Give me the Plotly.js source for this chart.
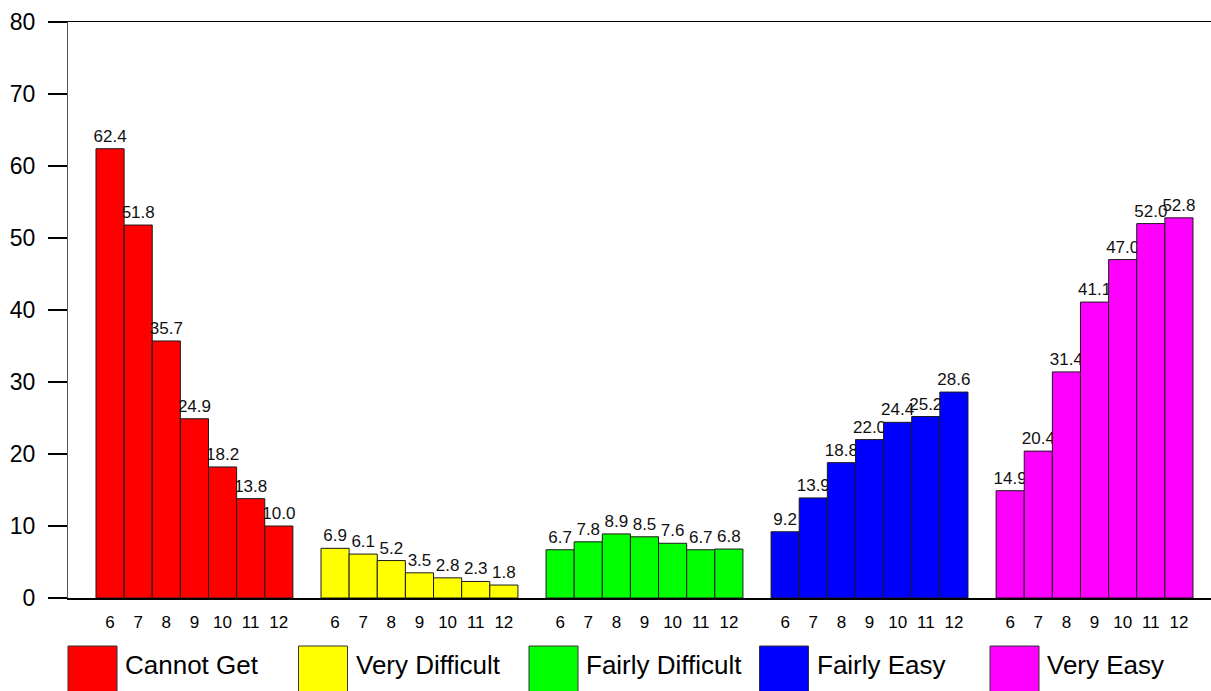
<!DOCTYPE html>
<html>
<head>
<meta charset="utf-8">
<script src="https://cdn.plot.ly/plotly-3.0.1.min.js"></script>
<style>
html,body{margin:0;padding:0;background:#fff;}
#chart{width:1211px;height:691px;}
</style>
</head>
<body>
<div id="chart"></div>
<script>
// ---- data ----
const grades = ['6', '7', '8', '9', '10', '11', '12'];
const seriesNames = ['Cannot Get', 'Very Difficult', 'Fairly Difficult', 'Fairly Easy', 'Very Easy'];
const cannotGet = [62.4, 51.8, 35.7, 24.9, 18.2, 13.8, 10.0];
const veryDifficult = [6.9, 6.1, 5.2, 3.5, 2.8, 2.3, 1.8];
const fairlyDifficult = [6.7, 7.8, 8.9, 8.5, 7.6, 6.7, 6.8];
const fairlyEasy = [9.2, 13.9, 18.8, 22.0, 24.4, 25.2, 28.6];
const veryEasy = [14.9, 20.4, 31.4, 41.1, 47.0, 52.0, 52.8];
const colors = ['#ff0000', '#ffff00', '#00ff00', '#0000ff', '#ff00ff'];

const allSeries = [cannotGet, veryDifficult, fairlyDifficult, fairlyEasy, veryEasy];
const FONT = 'Arial, "Liberation Sans", sans-serif';
const slot = grades.length + 1;

const traces = allSeries.map((vals, g) => ({
  type: 'bar',
  name: seriesNames[g],
  x: grades.map((_, i) => g * slot + i),
  y: vals,
  width: 1,
  marker: {color: colors[g], line: {color: '#1a1a1a', width: 1}},
  texttemplate: '%{y:.1f}',
  textposition: 'outside',
  constraintext: 'none',
  cliponaxis: false,
  textfont: {family: FONT, size: 17, color: '#111'},
  hoverinfo: 'x+y+name',
  showlegend: false
}));

const tickvals = [], ticktext = [];
allSeries.forEach((_, g) => grades.forEach((gr, i) => { tickvals.push(g * slot + i); ticktext.push(gr); }));

// custom legend with large swatches (pixel layout -> paper coords)
const mL = 68, mT = 22, W = 1211, H = 691, plotW = W - mL, plotB = 598, plotH = plotB - mT;
const px2x = p => (p - mL) / plotW;
const px2y = p => (plotB - p) / plotH;
const shapes = [], annotations = [];
seriesNames.forEach((nm, k) => {
  const left = 68 + k * 230.5;
  shapes.push({type: 'rect', xref: 'paper', yref: 'paper',
    x0: px2x(left), x1: px2x(left + 49), y0: px2y(646), y1: px2y(695),
    fillcolor: colors[k], line: {color: '#333', width: 1}});
  annotations.push({xref: 'paper', yref: 'paper', x: px2x(left + 55), y: px2y(665),
    xanchor: 'left', yanchor: 'middle', showarrow: false, text: nm,
    font: {family: FONT, size: 26, color: '#000'}});
});

const layout = {
  width: W, height: H,
  margin: {l: mL, r: 0, t: mT, b: H - plotB, pad: 0},
  paper_bgcolor: '#fff', plot_bgcolor: '#fff',
  barmode: 'overlay', bargap: 0,
  showlegend: false,
  font: {family: FONT, color: '#000'},
  xaxis: {
    range: [-1.495, 39.14], tickmode: 'array', tickvals: tickvals, ticktext: ticktext,
    ticks: 'outside', ticklen: 8, tickcolor: 'rgba(0,0,0,0)',
    tickfont: {family: FONT, size: 17, color: '#000'},
    showline: true, linecolor: '#000', linewidth: 1.5, mirror: true,
    showgrid: false, zeroline: false, fixedrange: true
  },
  yaxis: {
    range: [0, 80], dtick: 10, ticks: 'outside', ticklen: 19, tickwidth: 1.5, tickcolor: '#000',
    ticklabelstandoff: 8,
    tickfont: {family: FONT, size: 23, color: '#000'},
    showline: true, linecolor: '#555', linewidth: 1,
    showgrid: false, zeroline: false, fixedrange: true
  },
  shapes: shapes,
  annotations: annotations
};

Plotly.newPlot('chart', traces, layout, {displayModeBar: false, staticPlot: true});
</script>
</body>
</html>
